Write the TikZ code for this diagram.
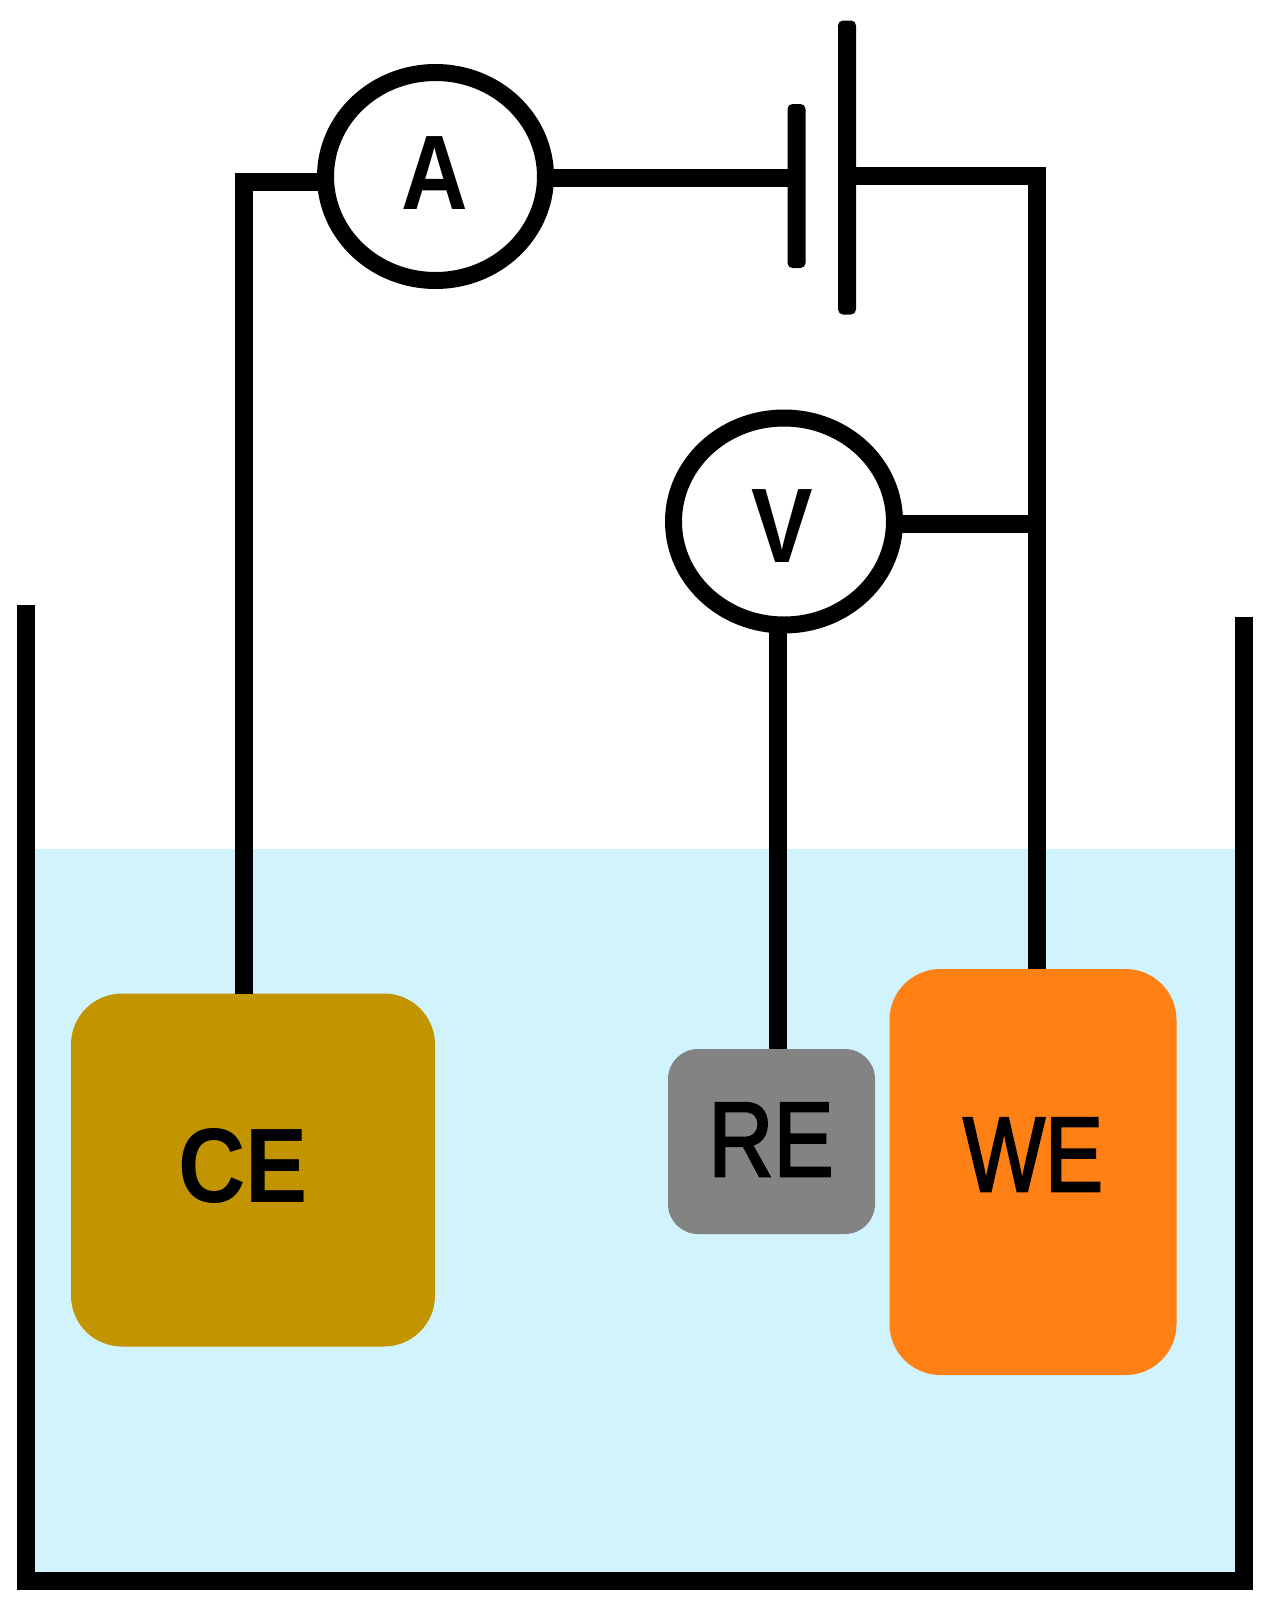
\documentclass[tikz,border=0pt]{standalone}
\usepackage{fontspec}
\usepackage{graphicx}
\setmainfont{Liberation Sans}
\newfontfamily\medfont[FakeBold=2.4]{Liberation Sans}
\definecolor{water}{HTML}{D0F3FE}
\definecolor{cebox}{HTML}{C29400}
\definecolor{rebox}{HTML}{838383}
\definecolor{webox}{HTML}{FF8015}
\tikzset{
  wire/.style={draw=black,line width=18pt,line join=miter},
  intowire/.style={wire,shorten <=-8pt},
  plate/.style={rectangle,fill=black,draw=none,rounded corners=5pt,inner sep=0pt,outer sep=0pt,minimum width=18pt},
  meter/.style={draw=black,line width=17pt,fill=white,ellipse,inner sep=0pt},
  electrode/.style={rectangle,inner sep=0pt,outer sep=0pt,draw=none},
  lbl/.style={anchor=base,inner sep=0pt,text=black},
}
\usetikzlibrary{shapes.geometric}
\begin{document}
\begin{tikzpicture}[x=1pt,y=-1pt]
\useasboundingbox (0,0) rectangle (1272,1609);
% water and tank
\fill[water] (26,849) rectangle (1244,1581);
\coordinate (tl) at (25.5,605);
\coordinate (bl) at (25.5,1581);
\coordinate (br) at (1244,1581);
\coordinate (tr) at (1244,617);
\draw[wire] (tl) -- (bl) -- (br) -- (tr);
% electrodes
\node[electrode,fill=cebox,rounded corners=51pt,minimum width=364pt,minimum height=353pt] (ce) at (253,1170) {};
\node[electrode,fill=webox,rounded corners=51pt,minimum width=287pt,minimum height=406pt] (we) at (1033,1172) {};
\node[electrode,fill=rebox,rounded corners=30pt,minimum width=207pt,minimum height=185pt] (re) at (771.5,1141.5) {};
% meters
\node[meter,minimum width=220pt,minimum height=208pt] (am) at (435.5,176.5) {};
\node[meter,minimum width=221pt,minimum height=207pt] (vm) at (784,521.5) {};
% battery
\node[plate,minimum height=164pt] (sp) at (796.5,186) {};
\node[plate,minimum height=294pt] (lp) at (847,167.5) {};
% wires
\coordinate (cec) at (243.7,182);
\coordinate (wec) at (1037,175.5);
\coordinate (amr) at (796.5,178);
\coordinate (vmr) at (1037,524);
\coordinate (vmb) at (778,600);
\draw[wire,shorten >=-8pt] (ce.north -| cec) -- (cec) -- (am.west |- cec);
\draw[intowire] (am.east |- amr) -- (sp.west |- amr);
\draw[wire] (lp.east |- wec) -- (wec) -- (we.north -| wec);
\draw[intowire] (vm.east |- vmr) -- (vmr);
\draw[intowire] (vm.south -| vmb) -- (re.north -| vmb);
% labels
\node[lbl,font=\fontsize{106}{106}\bfseries] (ta) at (435,209) {\scalebox{.87}[1]{A}};
\node[lbl,font=\fontsize{106}{106}\bfseries] (tv) at (782,562) {\scalebox{.87}[1]{V}};
\node[lbl,font=\fontsize{106}{106}\bfseries] (tce) at (243,1202) {\scalebox{.88}[1]{CE}};
\node[lbl,font=\fontsize{106}{106}\medfont] (tre) at (771,1176) {\scalebox{.85}[1]{RE}};
\node[lbl,font=\fontsize{106}{106}\medfont] (twe) at (1033,1191) {\scalebox{.82}[1]{WE}};
\end{tikzpicture}
\end{document}
